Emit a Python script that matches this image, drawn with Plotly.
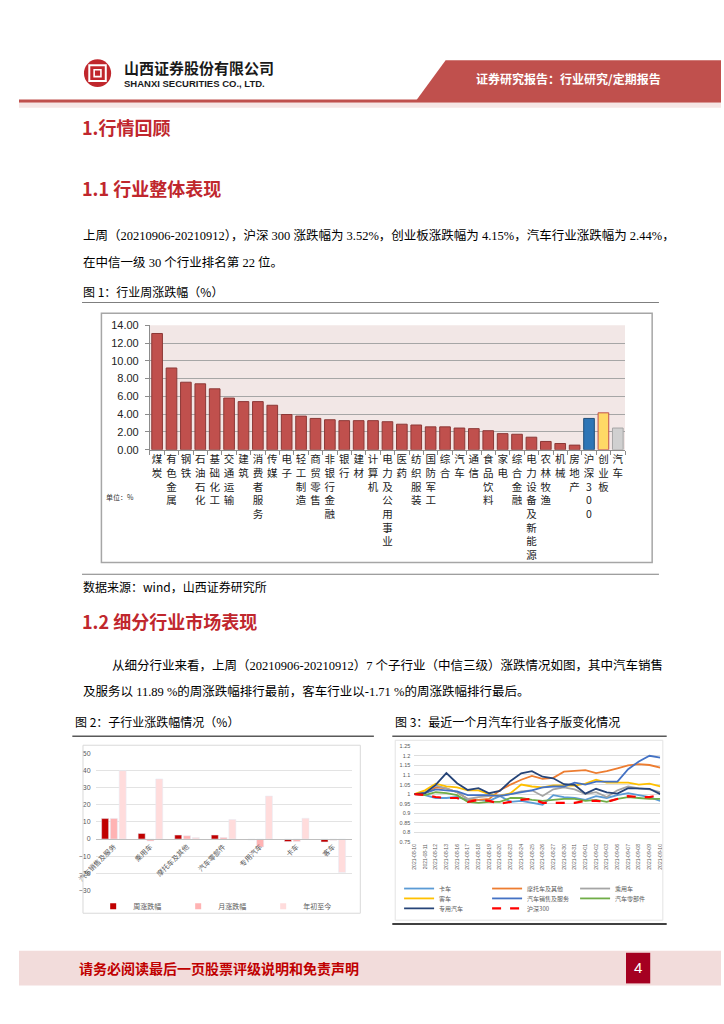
import plotly.graph_objects as go

W, H = 724, 1024
def px(x): return x / W
def py(y): return 1 - y / H

CJK = "Noto Sans CJK SC"
SERIF = "Liberation Serif, Noto Sans CJK SC"

# ---------------- Figure 1 data ----------------
industries = ["煤炭", "有色金属", "钢铁", "石油石化", "基础化工", "交通运输", "建筑", "消费者服务", "传媒", "电子",
              "轻工制造", "商贸零售", "非银行金融", "银行", "建材", "计算机", "电力及公用事业", "医药", "纺织服装", "国防军工",
              "综合", "汽车", "通信", "食品饮料", "家电", "综合金融", "电力设备及新能源", "农林牧渔", "机械", "房地产"]
industry_chg = [13.07, 9.19, 7.59, 7.41, 6.85, 5.81, 5.41, 5.41, 5.00, 3.96,
                3.78, 3.52, 3.37, 3.27, 3.27, 3.27, 3.15, 2.87, 2.78, 2.57,
                2.57, 2.44, 2.37, 2.14, 1.81, 1.74, 1.41, 0.93, 0.70, 0.52]
indices = ["沪深300", "创业板", "汽车"]
index_chg = [3.52, 4.15, 2.44]
fig1_yticks = [0, 2, 4, 6, 8, 10, 12, 14]

# ---------------- Figure 2 data ----------------
sub_inds = ["汽车销售及服务", "乘用车", "摩托车及其他", "汽车零部件", "专用汽车", "卡车", "客车"]
week_chg = [11.89, 3.2, 2.3, 2.3, -0.6, -1.5, -1.71]
month_chg = [12.0, -1.2, 1.9, 0.9, -4.7, -1.5, -0.7]
ytd_chg = [39.8, 35.0, 0.9, 11.3, 25.0, 12.1, -19.5]
fig2_series = ["周涨跌幅", "月涨跌幅", "年初至今"]

# ---------------- Figure 3 data ----------------
dates = ["2021-08-10", "2021-08-11", "2021-08-12", "2021-08-13", "2021-08-16", "2021-08-17", "2021-08-18", "2021-08-19",
         "2021-08-20", "2021-08-23", "2021-08-24", "2021-08-25", "2021-08-26", "2021-08-27", "2021-08-30", "2021-08-31",
         "2021-09-01", "2021-09-02", "2021-09-03", "2021-09-06", "2021-09-07", "2021-09-08", "2021-09-09", "2021-09-10"]
truck = [1.0, 0.995, 0.98, 0.98, 0.985, 0.97, 0.97, 0.965, 0.99, 0.96, 0.965, 0.955, 0.945, 0.995, 0.985, 0.98,
         0.97, 0.99, 0.98, 0.995, 1.005, 0.995, 0.985, 0.965]
moto = [1.0, 1.005, 1.035, 1.03, 1.01, 0.975, 0.97, 0.975, 1.02, 1.05, 1.075, 1.095, 1.08, 1.085, 1.117, 1.12,
        1.125, 1.11, 1.12, 1.135, 1.15, 1.157, 1.152, 1.138]
passenger = [1.0, 1.01, 1.045, 1.03, 1.01, 0.975, 0.985, 0.99, 0.995, 1.0, 1.015, 1.02, 0.99, 1.025, 1.035, 1.025,
             1.0, 1.01, 0.985, 1.02, 1.04, 1.03, 1.025, 1.01]
bus = [1.0, 1.02, 1.055, 1.04, 1.035, 1.02, 1.02, 1.0, 0.99, 1.005, 1.05, 1.04, 1.035, 1.045, 1.045, 1.045,
       1.055, 1.075, 1.06, 1.06, 1.06, 1.05, 1.055, 1.04]
sales = [1.0, 1.005, 1.025, 1.02, 1.015, 0.995, 0.995, 0.995, 0.99, 1.0, 1.01, 1.02, 1.035, 1.04, 1.04, 1.06,
         1.05, 1.065, 1.065, 1.065, 1.13, 1.17, 1.2, 1.19]
parts = [1.0, 0.995, 1.01, 1.005, 0.995, 0.96, 0.955, 0.96, 0.96, 0.98, 0.98, 0.97, 0.965, 0.97, 0.975, 0.975,
         0.965, 0.97, 0.96, 0.975, 0.985, 0.98, 0.975, 0.975]
special = [1.0, 1.005, 1.048, 1.11, 1.057, 1.022, 1.031, 1.005, 1.017, 1.069, 1.109, 1.12, 1.091, 1.083, 1.052, 1.048,
           1.003, 1.028, 1.009, 1.003, 1.031, 1.031, 1.028, 1.0]
hs300 = [1.0, 0.995, 0.985, 0.98, 0.98, 0.96, 0.97, 0.965, 0.95, 0.96, 0.97, 0.975, 0.955, 0.955, 0.955, 0.955,
         0.965, 0.965, 0.96, 0.975, 0.99, 0.985, 0.985, 0.995]
fig3_names = ["卡车", "摩托车及其他", "乘用车", "客车", "汽车销售及服务", "汽车零部件", "专用汽车", "沪深300"]
fig3_values = [truck, moto, passenger, bus, sales, parts, special, hs300]
fig3_yticks = [0.75, 0.8, 0.85, 0.9, 0.95, 1.0, 1.05, 1.1, 1.15, 1.2, 1.25]
fig3_yticktext = ["0.75", "0.8", "0.85", "0.9", "0.95", "1", "1.05", "1.1", "1.15", "1.2", "1.25"]

# ---------------- styles ----------------
index_fill = ["#2E75B6", "#FFD966", "#D0D0D0"]
index_line = ["#1F4E79", "#C0504D", "#A6A6A6"]
fig2_colors = ["#C00000", "#FFB3B3", "#FFDCDC"]
fig3_colors = ["#5B9BD5", "#ED7D31", "#A5A5A5", "#FFC000", "#4472C4", "#70AD47", "#264478", "#FF0000"]
fig3_legends = ["legend2", "legend2", "legend2", "legend3", "legend3", "legend3", "legend4", "legend4"]

fig = go.Figure()

# ---- Figure 1 ----
all_labels = industries + indices
fig.add_trace(go.Bar(x=list(range(len(industries))), y=industry_chg, xaxis="x", yaxis="y",
                     marker=dict(color="#C0504D", line=dict(color="#8C3836", width=1)),
                     showlegend=False, width=0.74))
for i, (name, v) in enumerate(zip(indices, index_chg)):
    fig.add_trace(go.Bar(x=[len(industries) + i], y=[v], xaxis="x", yaxis="y",
                         marker=dict(color=index_fill[i], line=dict(color=index_line[i], width=1)),
                         showlegend=False, width=0.74, name=name))

def vert(s):
    return "<br>".join(list(s))

# ---- Figure 2 ----
for name, vals, col in zip(fig2_series, [week_chg, month_chg, ytd_chg], fig2_colors):
    fig.add_trace(go.Bar(x=sub_inds, y=vals, name=name, xaxis="x2", yaxis="y2",
                         marker=dict(color=col), showlegend=False))
    # small square legend key
    fig.add_trace(go.Scatter(x=[None], y=[None], name=name, mode="markers", xaxis="x2", yaxis="y2",
                             marker=dict(color=col, symbol="square", size=6), legend="legend"))

# ---- Figure 3 ----
for name, vals, col, lg in zip(fig3_names, fig3_values, fig3_colors, fig3_legends):
    fig.add_trace(go.Scatter(x=dates, y=vals, name=name, mode="lines", xaxis="x3", yaxis="y3",
                             line=dict(color=col, width=2.2 if name == "沪深300" else 1.8,
                                       dash="dash" if name == "沪深300" else "solid"),
                             legend=lg))

# axis domains
d1x = [px(135), px(625)]
d1y = [py(449), py(323)]
d2x = [px(79), px(343)]
d2y = [py(895), py(756)]
d3x = [px(407.7), px(661.3)]
d3y = [py(846), py(749)]
zero2 = d2y[0] + (0 - (-30)) / 80 * (d2y[1] - d2y[0])

GRAYTXT = "#595959"

fig.update_layout(
    width=W, height=H, margin=dict(l=0, r=0, t=0, b=0),
    paper_bgcolor="white", plot_bgcolor="rgba(0,0,0,0)",
    barmode="group", bargap=0.28, bargroupgap=0.2,
    font=dict(family=CJK, color="#000000"),
    xaxis=dict(domain=d1x, anchor="y", range=[-0.5, len(all_labels) - 0.5],
               tickmode="array", tickvals=list(range(len(all_labels))),
               ticktext=[vert(s) for s in all_labels],
               tickfont=dict(size=10.5, family=CJK, color="#222222"),
               showgrid=False, zeroline=False, showline=True, linecolor="#8C8C8C", ticks="",
               minor=dict(tickmode="array", tickvals=[i - 0.5 for i in range(len(all_labels) + 1)],
                          ticks="outside", ticklen=4, tickcolor="#8C8C8C", showgrid=False)),
    yaxis=dict(domain=d1y, anchor="x", range=[0, 14], tickmode="array", tickvals=fig1_yticks,
               tickformat=".2f", showgrid=True, gridcolor="#A6A6A6", gridwidth=1,
               zeroline=False, showline=True, linecolor="#8C8C8C", ticks="outside", ticklen=4,
               tickcolor="#8C8C8C", tickfont=dict(size=11, family="Liberation Sans", color="#222222"),
               ticklabelstandoff=4),
    xaxis2=dict(domain=d2x, anchor="free", position=zero2, type="category",
                tickangle=-45, tickfont=dict(size=7, color=GRAYTXT), showgrid=False, zeroline=False,
                showline=True, linecolor="#BFBFBF", ticks=""),
    yaxis2=dict(domain=d2y, anchor="x2", range=[-30, 50], dtick=10, showgrid=True, gridcolor="#E3E3E3",
                zeroline=False, showline=False, tickfont=dict(size=7, color=GRAYTXT, family="Liberation Sans"),
                ticklabelstandoff=4),
    xaxis3=dict(domain=d3x, anchor="y3", type="category", tickangle=-90,
                tickfont=dict(size=5, color=GRAYTXT, family="Liberation Sans"), showgrid=False,
                zeroline=False, showline=False, ticks=""),
    yaxis3=dict(domain=d3y, anchor="x3", range=[0.75, 1.25], tickmode="array", tickvals=fig3_yticks,
                ticktext=fig3_yticktext, showgrid=True, gridcolor="#DDDDDD", zeroline=False, showline=False,
                tickfont=dict(size=5.5, color=GRAYTXT, family="Liberation Sans"), ticklabelstandoff=3),
    legend=dict(orientation="h", x=px(208), xanchor="center", y=py(911), yanchor="middle",
                font=dict(size=7, color=GRAYTXT), bgcolor="rgba(0,0,0,0)", itemwidth=30,
                entrywidth=40, entrywidthmode="pixels"),
    legend2=dict(orientation="h", x=px(392), xanchor="left", y=py(893), yanchor="middle",
                 font=dict(size=6, color=GRAYTXT), bgcolor="rgba(0,0,0,0)", entrywidth=43, entrywidthmode="pixels"),
    legend3=dict(orientation="h", x=px(392), xanchor="left", y=py(903), yanchor="middle",
                 font=dict(size=6, color=GRAYTXT), bgcolor="rgba(0,0,0,0)", entrywidth=43, entrywidthmode="pixels"),
    legend4=dict(orientation="h", x=px(392), xanchor="left", y=py(913), yanchor="middle",
                 font=dict(size=6, color=GRAYTXT), bgcolor="rgba(0,0,0,0)", entrywidth=43, entrywidthmode="pixels"),
)

RED = "#C0504D"
shapes = []
def rect(x0, y0, x1, y1, fill=None, line=None, lw=0, layer="above"):
    shapes.append(dict(type="rect", xref="paper", yref="paper", x0=px(x0), x1=px(x1), y0=py(y1), y1=py(y0),
                       fillcolor=fill if fill else "rgba(0,0,0,0)",
                       line=dict(color=line if line else "rgba(0,0,0,0)", width=lw), layer=layer))
def hline(x0, x1, y, color, lw):
    shapes.append(dict(type="line", xref="paper", yref="paper", x0=px(x0), x1=px(x1), y0=py(y), y1=py(y),
                       line=dict(color=color, width=lw)))

# header
shapes.append(dict(type="path", xref="paper", yref="paper",
                   path=f"M {px(440)},{py(55)} L 1,{py(55)} L 1,{py(95)} L {px(410)},{py(95)} Z",
                   fillcolor=RED, line=dict(width=0)))
rect(0, 94.5, 724, 98, fill=RED)
rect(0, 98, 724, 103, fill="#F6E6E5")
shapes.append(dict(type="circle", xref="paper", yref="paper", x0=px(67), x1=px(95), y0=py(82), y1=py(54),
                   fillcolor="#C0272D", line=dict(width=0)))
rect(72.5, 60, 89.5, 76, line="white", lw=2)
rect(77.5, 64.5, 84.5, 71.5, line="white", lw=1.6)
# figure 1 frame
hline(65, 660, 300, "#7F7F7F", 1.2)
rect(85, 311, 653, 563, line="#A6A6A6", lw=1.5)
shapes.append(dict(type="rect", xref="x domain", yref="y domain", x0=0, x1=1, y0=0, y1=1,
                   fillcolor="#F2E7E6", line=dict(width=0), layer="below"))
hline(65, 660, 575, "#7F7F7F", 1.2)
# figure 2 / 3 frames
hline(55, 366, 739, "#595959", 1.5)
hline(385, 668, 739, "#595959", 1.5)
rect(66, 748, 352, 918, line="#D9D9D9", lw=1)
rect(388, 743, 664, 925, line="#E3E3E3", lw=1)
hline(385, 668, 929, "#404040", 2)
# footer
rect(0, 956, 724, 991, fill="#F2DCDB")
rect(626, 958, 651, 989, fill="#A50021")

fig.update_layout(shapes=shapes)

ann = []
def text(x, y, s, size, color="#000000", family=CJK, xanchor="left", bold=False):
    ann.append(dict(xref="paper", yref="paper", x=px(x), y=py(y), text=f"<b>{s}</b>" if bold else s,
                    showarrow=False, xanchor=xanchor, yanchor="middle",
                    font=dict(size=size, color=color, family=family)))

text(106, 62, "山西证券股份有限公司", 15, "#1A1A1A", bold=True)
text(106, 78, "SHANXI SECURITIES CO., LTD.", 9.5, "#1A1A1A", family="Liberation Sans Narrow, Liberation Sans", bold=True)
text(567, 73, "证券研究报告：行业研究/定期报告", 12, "white", xanchor="center", bold=True)
text(63, 122, "1.行情回顾", 18, "#C0272D", bold=True)
text(63, 184, "1.1 行业整体表现", 18, "#C0272D", bold=True)
text(64, 232, "上周（20210906-20210912），沪深 300 涨跌幅为 3.52%，创业板涨跌幅为 4.15%，汽车行业涨跌幅为 2.44%，", 12.5, family=SERIF)
text(64, 260, "在中信一级 30 个行业排名第 22 位。", 12.5, family=SERIF)
text(64, 289, "图 1：行业周涨跌幅（%）", 12, family=CJK)
text(88, 497, "单位：%", 7, "#333333")
text(64, 587, "数据来源：wind，山西证券研究所", 12, family=CJK)
text(63, 622, "1.2 细分行业市场表现", 18, "#C0272D", bold=True)
text(94, 667, "从细分行业来看，上周（20210906-20210912）7 个子行业（中信三级）涨跌情况如图，其中汽车销售", 12.5, family=SERIF)
text(64, 694, "及服务以 11.89 %的周涨跌幅排行最前，客车行业以-1.71 %的周涨跌幅排行最后。", 12.5, family=SERIF)
text(56, 724, "图 2：子行业涨跌幅情况（%）", 12, family=CJK)
text(386, 724, "图 3：最近一个月汽车行业各子版变化情况", 12, family=CJK)
text(60, 973, "请务必阅读最后一页股票评级说明和免责声明", 14, "#C00000", bold=True)
text(638.5, 973, "4", 15, "white", family="Liberation Sans", xanchor="center")

fig.update_layout(annotations=ann)

fig.write_html("out.html", config={"displayModeBar": False},
               post_script="document.body.style.margin='0px';")
